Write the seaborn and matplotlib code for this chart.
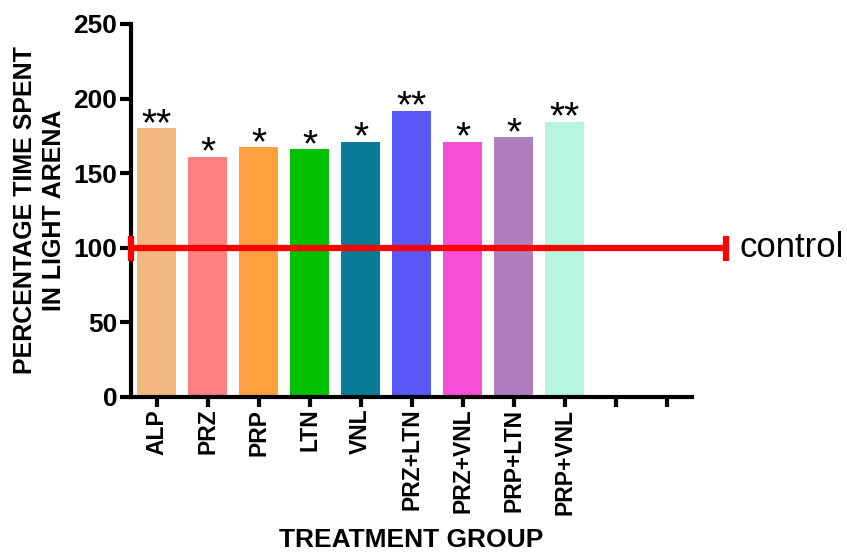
import numpy as np
import pandas as pd
import matplotlib
matplotlib.use('Agg')
import matplotlib.pyplot as plt
import seaborn as sns

# values
groups = ['ALP', 'PRZ', 'PRP', 'LTN', 'VNL', 'PRZ+LTN', 'PRZ+VNL', 'PRP+LTN', 'PRP+VNL']
pct_time = [180, 161, 167.5, 166, 171, 192, 171, 174, 184.5]
stars = ['**', '*', '*', '*', '*', '**', '*', '*', '**']
bar_colors = ['#F2B77E', '#FF8080', '#FFA040', '#00C000', '#0A7B96',
              '#5858F8', '#F74ED6', '#B07DBF', '#B6F5DE']
empty_slots = [' ', '  ']
control_value = 100
y_ticks = [0, 50, 100, 150, 200, 250]

sns.set_style('ticks')
plt.rcParams['font.family'] = ['Liberation Sans', 'DejaVu Sans']
for key in ['text.color', 'axes.labelcolor', 'xtick.color', 'ytick.color', 'axes.edgecolor']:
    plt.rcParams[key] = 'black'

df = pd.DataFrame({'group': groups, 'pct': pct_time})
order = groups + empty_slots

fig = plt.figure(figsize=(8.47, 5.54), dpi=100)
ax = fig.add_axes([0.1547, 0.2834, 0.6623, 0.6733])

sns.barplot(data=df, x='group', y='pct', hue='group', order=order,
            palette=dict(zip(groups, bar_colors)), width=0.75,
            legend=False, ax=ax, saturation=1, edgecolor='none')

# significance stars
for i, (v, s) in enumerate(zip(pct_time, stars)):
    ax.annotate(s, (i, v), xytext=(0, -5), textcoords='offset points',
                ha='center', va='baseline', fontsize=28)

ax.set_xlim(-0.5, len(order) - 0.5)
ax.set_ylim(0, 250)
ax.set_yticks(y_ticks)
ax.set_xticks(range(len(order)))
ax.set_xticklabels(order, rotation=90, fontsize=16.5, fontweight='bold')
ax.tick_params(axis='y', labelsize=19, width=3, length=8, pad=2)
ax.tick_params(axis='x', width=3, length=7.5, pad=1)
for lab in ax.get_yticklabels():
    lab.set_fontweight('bold')

for side in ['left', 'bottom']:
    ax.spines[side].set_linewidth(3)
sns.despine(ax=ax)

# control reference line, running past the axis
x0, x1 = -0.51, 11.16
ax.plot([x0, x1], [control_value] * 2, color='red', lw=4.5,
        clip_on=False, zorder=5, solid_capstyle='butt')
ax.plot([x0, x1], [control_value] * 2, ls='none', marker='|', ms=18, mew=4.5,
        color='red', clip_on=False, zorder=5)
ax.annotate('control', (x1, control_value), xytext=(10, 0),
            textcoords='offset points', va='center', ha='left',
            fontsize=25, annotation_clip=False)

ax.set_ylabel('PERCENTAGE TIME SPENT\nIN LIGHT ARENA', fontsize=18,
              fontweight='bold', labelpad=5, linespacing=1.3)
ax.set_xlabel('TREATMENT GROUP', fontsize=19, fontweight='bold', va='bottom')
ax.xaxis.set_label_coords(0.5, -0.416)

fig.savefig('out.png', dpi=100)
